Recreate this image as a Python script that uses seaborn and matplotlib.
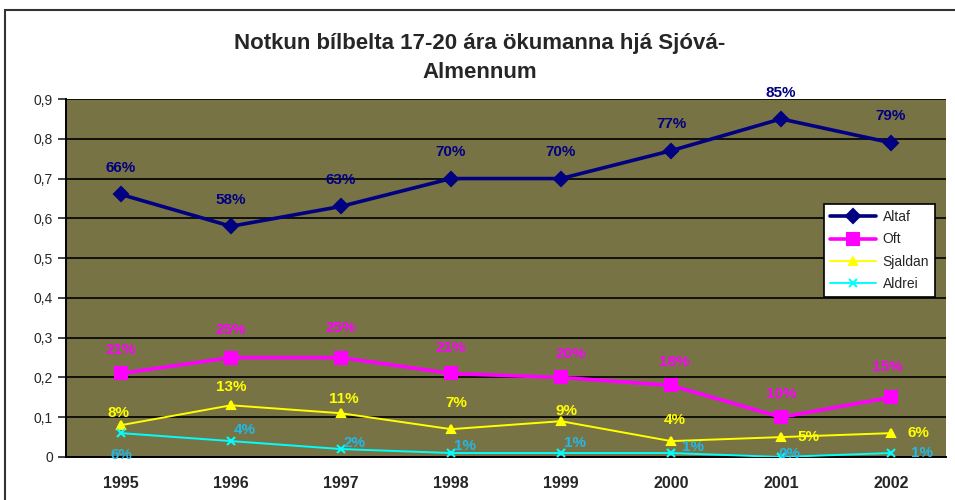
import pandas as pd
import seaborn as sns
import matplotlib.pyplot as plt
from matplotlib.patches import Rectangle

# Gögn lesin af myndinni
ar = ['1995', '1996', '1997', '1998', '1999', '2000', '2001', '2002']
altaf = [0.66, 0.58, 0.63, 0.70, 0.70, 0.77, 0.85, 0.79]
oft = [0.21, 0.25, 0.25, 0.21, 0.20, 0.18, 0.10, 0.15]
sjaldan = [0.08, 0.13, 0.11, 0.07, 0.09, 0.04, 0.05, 0.06]
aldrei = [0.06, 0.04, 0.02, 0.01, 0.01, 0.01, 0.00, 0.01]

titill = 'Notkun bílbelta 17-20 ára ökumanna hjá Sjóvá-\nAlmennum'

# staðsetning merkimiða (í punktum miðað við punktinn)
hnik = {
    'Altaf': [(0, 19)] * 8,
    'Oft': [(0, 17), (0, 20), (0, 21), (0, 18), (7, 17), (2, 17), (0, 17), (-3, 22)],
    'Sjaldan': [(-2, 9), (0, 13), (2, 10), (4, 19), (4, 7), (3, 15), (20, 0), (20, 0)],
    'Aldrei': [(0, -16), (10, 8), (10, 4), (10, 5), (10, 7), (16, 4), (6, 2), (22, 0)],
}

stillingar = {
    'Altaf': dict(color='#000080', marker='D', lw=2.6, ms=7, txt='#000080'),
    'Oft': dict(color='#FF00FF', marker='s', lw=2.6, ms=9, txt='#FF00FF'),
    'Sjaldan': dict(color='#FFFF00', marker='^', lw=1.4, ms=6, txt='#FFFF00'),
    'Aldrei': dict(color='#00FFFF', marker='x', lw=1.4, ms=6, txt='#22B8E8'),
}

df = pd.DataFrame({'ar': ar, 'Altaf': altaf, 'Oft': oft,
                   'Sjaldan': sjaldan, 'Aldrei': aldrei})
langt = df.melt(id_vars='ar', var_name='hopur', value_name='hlutfall')

sns.set_style('white')
plt.rcParams['font.family'] = ['Liberation Sans', 'DejaVu Sans']

fig = plt.figure(figsize=(9.55, 5), dpi=100)
ax = fig.add_axes([66 / 955, 43 / 500, 880 / 955, 358 / 500])
ax.set_facecolor('#787345')

for hopur, st in stillingar.items():
    gogn = langt[langt['hopur'] == hopur]
    sns.lineplot(data=gogn, x='ar', y='hlutfall', ax=ax, color=st['color'],
                 marker=st['marker'], markersize=st['ms'], linewidth=st['lw'],
                 markeredgecolor=st['color'], markeredgewidth=1.5,
                 label=hopur, zorder=3)
    for i, (x, y) in enumerate(zip(gogn['ar'], gogn['hlutfall'])):
        ax.annotate(f'{round(y * 100):.0f}%', (i, y), xytext=hnik[hopur][i],
                    textcoords='offset points', ha='center', va='center',
                    fontsize=11, fontweight='bold', color=st['txt'], zorder=4)

ax.set_xlim(-0.5, len(ar) - 0.5)
ax.set_ylim(0, 0.9)
ax.set_yticks([i / 10 for i in range(10)])
ax.set_yticklabels(['0'] + [f'0,{i}' for i in range(1, 10)], fontsize=10)
ax.set_xticks(range(len(ar)))
ax.set_xticklabels(ar, fontsize=11.5, fontweight='bold')
ax.set_xticks([i - 0.5 for i in range(len(ar) + 1)], minor=True)
ax.tick_params(axis='x', which='major', length=0, pad=14)
ax.tick_params(axis='x', which='minor', length=6, width=1.2, direction='out')
ax.tick_params(axis='y', length=6, width=1.2, direction='out', left=True)
ax.set_xlabel('')
ax.set_ylabel('')
ax.grid(axis='y', color='black', linewidth=1.2)
ax.set_axisbelow(True)
for s in ['top', 'right']:
    ax.spines[s].set_visible(False)
for s in ['left', 'bottom']:
    ax.spines[s].set_color('black')
    ax.spines[s].set_linewidth(1.4)

leg = ax.legend(loc='upper left', bbox_to_anchor=(0.861, 0.707), fontsize=10,
                frameon=True, fancybox=False, edgecolor='black', framealpha=1,
                borderpad=0.45, labelspacing=0.6, handlelength=3.3,
                handletextpad=0.5, borderaxespad=0)
leg.get_frame().set_linewidth(1.2)
leg.get_frame().set_facecolor('white')

fig.text(480 / 955, 1 - 58 / 500, titill, ha='center', va='center',
         fontsize=16, fontweight='bold', linespacing=1.5)

fig.patches.append(Rectangle((5 / 955, -0.1), 1.2, 1.1 - 10 / 500,
                             transform=fig.transFigure, fill=False,
                             edgecolor='#333333', linewidth=1.5))

fig.savefig('out.png', dpi=100)
